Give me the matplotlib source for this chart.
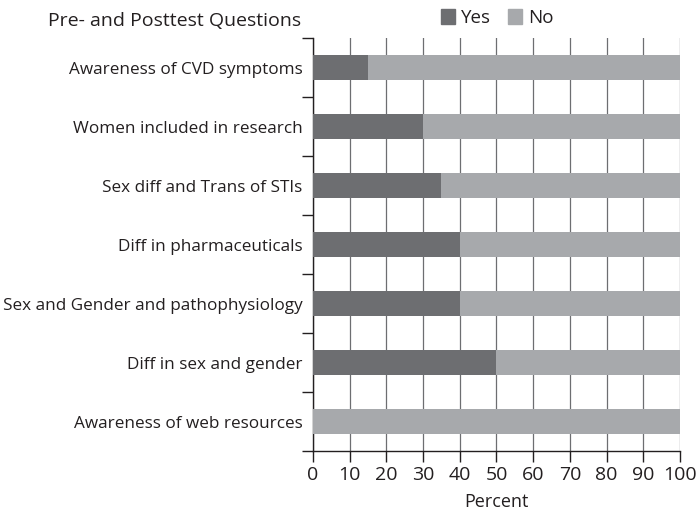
import matplotlib
matplotlib.use("Agg")
import matplotlib.pyplot as plt
import numpy as np
from matplotlib.patches import Patch

categories = ["Awareness of CVD symptoms", "Women included in research",
              "Sex diff and Trans of STIs", "Diff in pharmaceuticals",
              "Sex and Gender and pathophysiology", "Diff in sex and gender",
              "Awareness of web resources"]
yes_vals = [15, 30, 35, 40, 40, 50, 0]
no_vals = [85, 70, 65, 60, 60, 50, 100]
xticks = [0, 10, 20, 30, 40, 50, 60, 70, 80, 90, 100]

plt.rcParams['font.family'] = ['Open Sans', 'DejaVu Sans']
fig = plt.figure(figsize=(6.96, 5.11), dpi=100)
ax = fig.add_axes([0.4497, 0.1174, 0.977 - 0.4497, 0.9256 - 0.1174])

yes_c = "#6d6e71"
no_c = "#a7a9ac"
n = len(categories)
y = np.arange(n)
ax.barh(y, yes_vals, height=0.41, color=yes_c, zorder=3)
ax.barh(y, no_vals, left=yes_vals, height=0.41, color=no_c, zorder=3)
ax.set_ylim(n - 0.5, -0.5)
ax.set_xlim(0, 100)
ax.set_xticks(xticks)
ax.set_xticklabels([str(t) for t in xticks], fontsize=14, color="#231f20")
ax.set_yticks(y)
ax.set_yticklabels(categories, fontsize=12.3, color="#231f20")
ax.tick_params(axis='y', length=0, pad=7.5)
ax.set_yticks(np.arange(-0.5, n, 1), minor=True)
ax.tick_params(axis='y', which='minor', length=8, width=1, color="#231f20", direction='out')
ax.tick_params(axis='x', length=8, width=1, color="#231f20", direction='out', pad=3)
ax.grid(axis='x', color="#6d6e71", linewidth=0.9, zorder=0)
for s in ['top', 'right']:
    ax.spines[s].set_visible(False)
for s in ['left', 'bottom']:
    ax.spines[s].set_color("#231f20")
    ax.spines[s].set_linewidth(1)
ax.set_xlabel("Percent", fontsize=13, color="#231f20", labelpad=6)

fig.text(0.069, 0.977, "Pre- and Posttest Questions", fontsize=14,
         color="#231f20", va='top', ha='left')
handles = [Patch(color=yes_c, label="Yes"), Patch(color=no_c, label="No")]
fig.legend(handles=handles, loc='upper left', bbox_to_anchor=(0.61, 1.015), ncol=2,
           frameon=False, fontsize=13.5, handlelength=0.75, handleheight=0.85,
           handletextpad=0.3, columnspacing=0.9, labelcolor="#231f20")
fig.savefig("out.png", dpi=100)
